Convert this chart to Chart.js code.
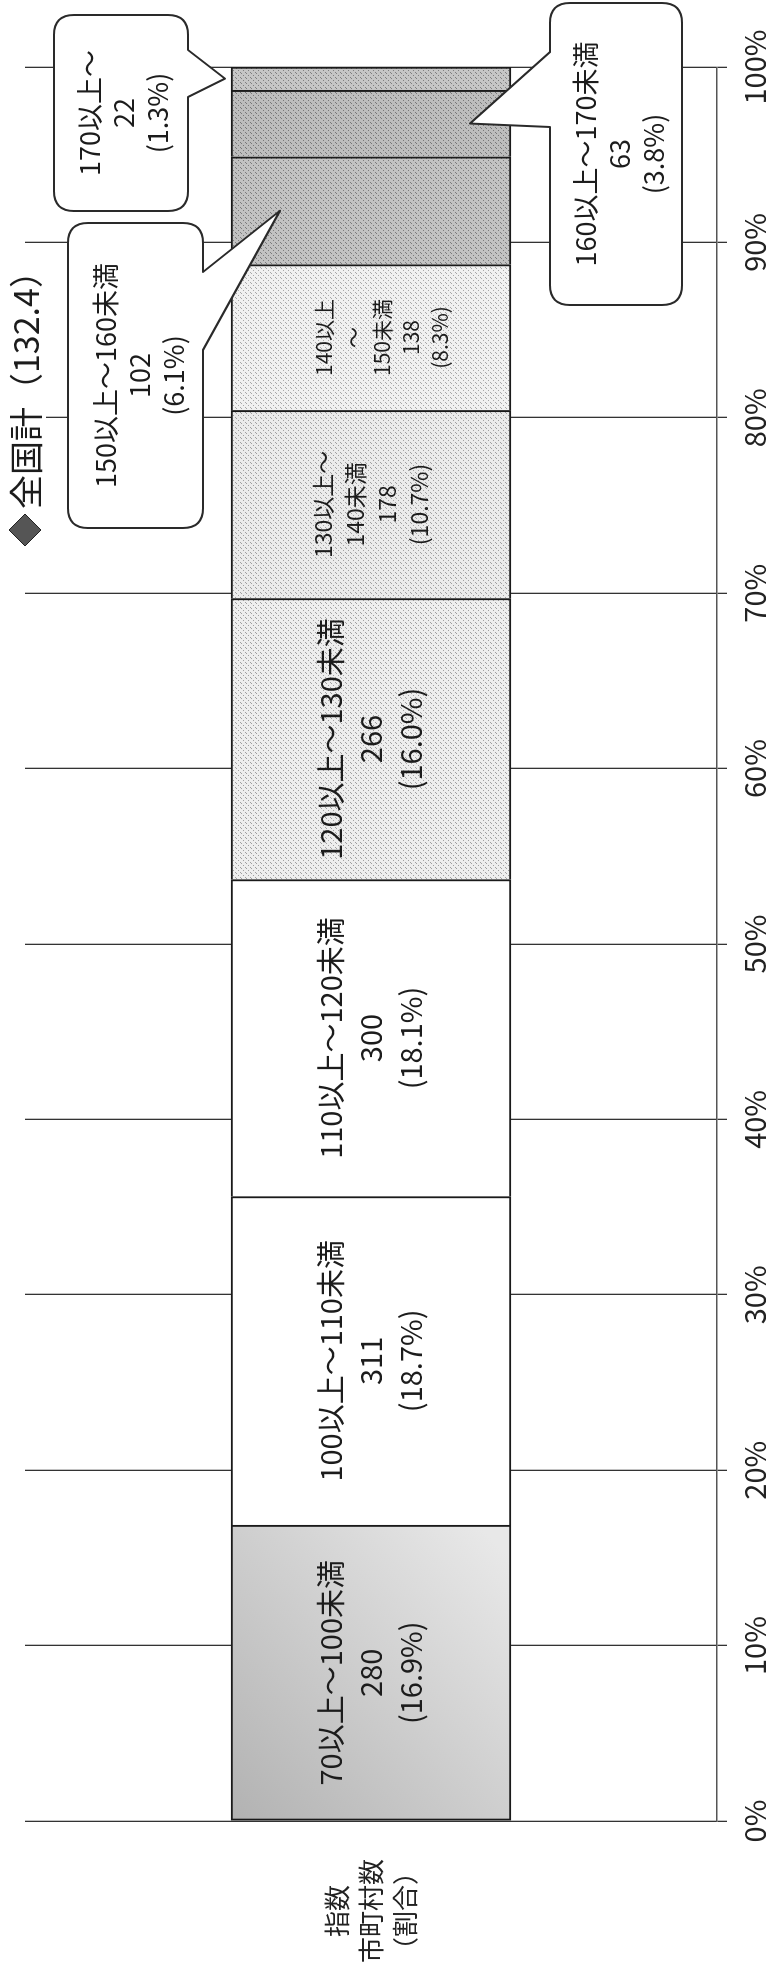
<!DOCTYPE html>
<html lang="ja">
<head>
<meta charset="utf-8">
<title>指数別市町村数</title>
<script src="https://cdn.jsdelivr.net/npm/chart.js@4.4.1/dist/chart.umd.min.js"></script>
<style>
  html, body { margin: 0; padding: 0; background: #fff; width: 777px; height: 1963px; overflow: hidden; }
  /* the chart is laid out lying down, then turned a quarter turn counter-clockwise */
  #rot { position: absolute; left: 0; top: 0; width: 1963px; height: 777px;
         transform-origin: 0 0; transform: translate(0, 1963px) rotate(-90deg); }
  canvas { display: block; }
</style>
</head>
<body>
<div id="rot"><canvas id="chart" width="1963" height="777"></canvas></div>
<script>
// データ
const bandNames = ['70以上～100未満', '100以上～110未満', '110以上～120未満', '120以上～130未満',
  '130以上～140未満', '140以上～150未満', '150以上～160未満', '160以上～170未満', '170以上～'];
const municipalityCounts = [280, 311, 300, 266, 178, 138, 102, 63, 22];
const sharePercents = [16.9, 18.7, 18.1, 16.0, 10.7, 8.3, 6.1, 3.8, 1.3];
const categoryLabel = ['指数', '市町村数', '（割合）'];
const percentTicks = [0, 10, 20, 30, 40, 50, 60, 70, 80, 90, 100];
const titleText = '全国計（132.4）';

const total = municipalityCounts.reduce((a, b) => a + b, 0);
const shareValues = municipalityCounts.map(c => c / total * 100);

const FONT = "'Noto Sans CJK JP', 'Noto Sans', sans-serif";
const INK = '#1c1c1c';

// how the band names wrap inside the narrow segments
const wraps = { 4: ['130以上～', '140未満'], 5: ['140以上', '～', '150未満'] };
function labelLines(i) {
  const head = wraps[i] || [bandNames[i]];
  return head.concat([String(municipalityCounts[i]), '(' + sharePercents[i].toFixed(1) + '%)']);
}

// stippled grey fills, like the screen tones of the printed chart
function stipple(base, dot) {
  const c = document.createElement('canvas');
  c.width = 5; c.height = 5;
  const g = c.getContext('2d');
  g.fillStyle = base; g.fillRect(0, 0, 5, 5);
  g.fillStyle = dot;
  [[0, 0], [2, 3], [4, 1]].forEach(([x, y]) => g.fillRect(x, y, 1, 1));
  return g.createPattern(c, 'repeat');
}
const ctx0 = document.getElementById('chart').getContext('2d');
const fills = [
  null, // gradient, see firstFill
  '#ffffff',
  '#ffffff',
  stipple('#eeeeee', '#a0a0a0'),
  stipple('#ebebeb', '#a0a0a0'),
  stipple('#f1f1f1', '#a8a8a8'),
  stipple('#c2c2c2', '#7c7c7c'),
  stipple('#bdbdbd', '#787878'),
  stipple('#c6c6c6', '#808080')
];
function firstFill(context) {
  const area = context.chart.chartArea;
  if (!area) return '#cccccc';
  const g = context.chart.ctx.createLinearGradient(area.left, 233, area.left + 260, 513);
  g.addColorStop(0, '#b2b2b2');
  g.addColorStop(1, '#e8e8e8');
  return g;
}

// 吹き出しの配置（寝かせた座標: u = 横, v = 縦）
const callouts = [
  { index: 8, u1: 1752, u2: 1948, v1: 54, v2: 188, edge: 'bottom', base: [1866, 1913], tipV: 225, textV: 124 },
  { index: 6, u1: 1435, u2: 1740, v1: 68, v2: 203, edge: 'bottom', base: [1613, 1691], tipV: 280, textV: 140 },
  { index: 7, u1: 1658, u2: 1960, v1: 550, v2: 682, edge: 'top', base: [1836, 1911], tipV: 470, textV: 620 }
];

function drawLines(ctx, lines, cu, cv, size, step) {
  ctx.font = size + 'px ' + FONT;
  ctx.fillStyle = INK;
  ctx.textAlign = 'center';
  ctx.textBaseline = 'middle';
  const v0 = cv - (lines.length - 1) * step / 2;
  lines.forEach((t, k) => ctx.fillText(t, cu, v0 + k * step));
}

function calloutPath(ctx, c, tipU) {
  const r = 20;
  const { u1, u2, v1, v2 } = c;
  ctx.beginPath();
  ctx.moveTo(u1 + r, v1);
  if (c.edge === 'top') {
    ctx.lineTo(c.base[0], v1);
    ctx.lineTo(tipU, c.tipV);
    ctx.lineTo(c.base[1], v1);
  }
  ctx.lineTo(u2 - r, v1);
  ctx.quadraticCurveTo(u2, v1, u2, v1 + r);
  ctx.lineTo(u2, v2 - r);
  ctx.quadraticCurveTo(u2, v2, u2 - r, v2);
  if (c.edge === 'bottom') {
    ctx.lineTo(c.base[1], v2);
    ctx.lineTo(tipU, c.tipV);
    ctx.lineTo(c.base[0], v2);
  }
  ctx.lineTo(u1 + r, v2);
  ctx.quadraticCurveTo(u1, v2, u1, v2 - r);
  ctx.lineTo(u1, v1 + r);
  ctx.quadraticCurveTo(u1, v1, u1 + r, v1);
  ctx.closePath();
}

const annotate = {
  id: 'annotate',
  beforeDraw(chart) {
    const { ctx, width, height } = chart;
    ctx.save();
    ctx.fillStyle = '#fff';
    ctx.fillRect(0, 0, width, height);
    ctx.restore();
  },
  afterDatasetsDraw(chart) {
    const { ctx } = chart;
    ctx.save();
    // labels inside the wide segments
    const sizes = { 4: [23, 32, 371], 5: [21, 29, 382] };
    for (let i = 0; i <= 5; i++) {
      const bar = chart.getDatasetMeta(i).data[0];
      const [size, step, cv] = sizes[i] || [29, 40, bar.y];
      drawLines(ctx, labelLines(i), (bar.x + bar.base) / 2, cv, size, step);
    }
    // speech bubbles for the thin top segments
    callouts.forEach(c => {
      const bar = chart.getDatasetMeta(c.index).data[0];
      const tipU = (bar.x + bar.base) / 2;
      calloutPath(ctx, c, tipU);
      ctx.fillStyle = '#fff';
      ctx.fill();
      ctx.lineWidth = 2;
      ctx.strokeStyle = '#2a2a2a';
      ctx.lineJoin = 'round';
      ctx.stroke();
      const lines = [bandNames[c.index], String(municipalityCounts[c.index]),
        '(' + sharePercents[c.index].toFixed(1) + '%)'];
      drawLines(ctx, lines, (c.u1 + c.u2) / 2, c.textV, 27, 34);
    });
    // title with diamond marker
    ctx.font = '34px ' + FONT;
    const tw = ctx.measureText(titleText).width;
    const tu = 1454, tv = 25;
    ctx.fillStyle = '#fff';
    ctx.fillRect(tu - 42, tv - 21, tw + 48, 42);
    ctx.fillStyle = '#555';
    ctx.strokeStyle = '#222';
    ctx.lineWidth = 1;
    ctx.beginPath();
    ctx.moveTo(tu - 37, tv);
    ctx.lineTo(tu - 21, tv - 16);
    ctx.lineTo(tu - 5, tv);
    ctx.lineTo(tu - 21, tv + 16);
    ctx.closePath();
    ctx.fill();
    ctx.stroke();
    ctx.fillStyle = INK;
    ctx.textAlign = 'left';
    ctx.textBaseline = 'middle';
    ctx.fillText(titleText, tu, tv + 1);
    ctx.restore();
  }
};

new Chart(ctx0, {
  type: 'bar',
  data: {
    labels: [categoryLabel],
    datasets: bandNames.map((name, i) => ({
      label: name,
      data: [shareValues[i]],
      backgroundColor: i === 0 ? firstFill : fills[i],
      borderColor: '#1a1a1a',
      borderWidth: { top: 2, bottom: 2, left: i === 0 ? 2 : 0, right: 2 },
      borderSkipped: false,
      barThickness: 280
    }))
  },
  options: {
    indexAxis: 'y',
    responsive: false,
    animation: false,
    layout: { padding: { left: 0, right: 67, top: 25, bottom: 0 } },
    plugins: {
      legend: { display: false },
      tooltip: { enabled: false }
    },
    scales: {
      x: {
        stacked: true,
        min: 0,
        max: 100,
        afterBuildTicks: s => { s.ticks = percentTicks.map(v => ({ value: v })); },
        afterFit: s => { s.height = 60; s.paddingLeft = 0; },
        grid: { color: '#333', lineWidth: 1.3, tickLength: 10 },
        border: { display: true, color: '#555', width: 1.5 },
        ticks: {
          autoSkip: false, maxRotation: 0, padding: 11, color: '#222',
          font: { family: FONT, size: 29 },
          callback: v => v + '%'
        }
      },
      y: {
        stacked: true,
        afterFit: s => { s.width = 142; s.paddingTop = 0; s.paddingBottom = 0; },
        grid: { display: false },
        border: { display: false },
        ticks: {
          crossAlign: 'center', padding: 30, color: '#222',
          font: { family: FONT, size: 26, lineHeight: 1.3 }
        }
      }
    }
  },
  plugins: [annotate]
});
</script>
</body>
</html>
